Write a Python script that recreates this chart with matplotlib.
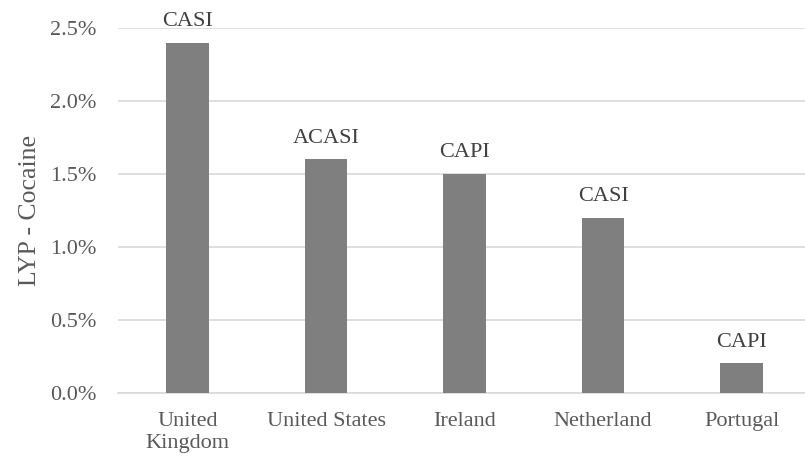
import matplotlib
matplotlib.use("Agg")
import matplotlib.pyplot as plt
from matplotlib.ticker import FuncFormatter

countries = ["United\nKingdom", "United States", "Ireland", "Netherland", "Portugal"]
values = [0.024, 0.016, 0.015, 0.012, 0.002]
methods = ["CASI", "ACASI", "CAPI", "CASI", "CAPI"]
yticks = [0.0, 0.005, 0.010, 0.015, 0.020, 0.025]

plt.rcParams['font.family'] = ['Liberation Serif', 'DejaVu Serif']

W, H = 805, 465
fig = plt.figure(figsize=(W / 100, H / 100), dpi=100)
left, right, top, bottom = 118.25, 810.75, 28, 392.5
ax = fig.add_axes([left / W, 1 - bottom / H, (right - left) / W, (bottom - top) / H])

x = list(range(len(countries)))
ax.bar(x, values, width=0.31, color="#7f7f7f", zorder=3)
for xi, v, m in zip(x, values, methods):
    ax.annotate(m, (xi, v), xytext=(0, 12), textcoords="offset points",
                ha="center", va="baseline", fontsize=16, color="#404040")

ax.set_xlim(-0.5, len(countries) - 0.5)
ax.set_ylim(0, 0.025)
ax.set_yticks(yticks)
ax.yaxis.set_major_formatter(FuncFormatter(lambda v, p: f"{v*100:.1f}%"))
ax.set_xticks(x)
ax.set_xticklabels(countries, linespacing=1.25)
ax.grid(axis="y", color="#d9d9d9", linewidth=1.2, zorder=0)
for s in ["top", "right", "left"]:
    ax.spines[s].set_visible(False)
ax.spines["bottom"].set_color("#d9d9d9")
ax.spines["bottom"].set_linewidth(1.2)
ax.tick_params(axis="x", length=0, labelsize=16, colors="#595959", pad=14)
ax.tick_params(axis="y", length=0, labelsize=16, colors="#595959", pad=16)
ax.set_ylabel("LYP - Cocaine", fontsize=18.5, color="#595959", labelpad=6)

fig.savefig("out.png", dpi=100)
